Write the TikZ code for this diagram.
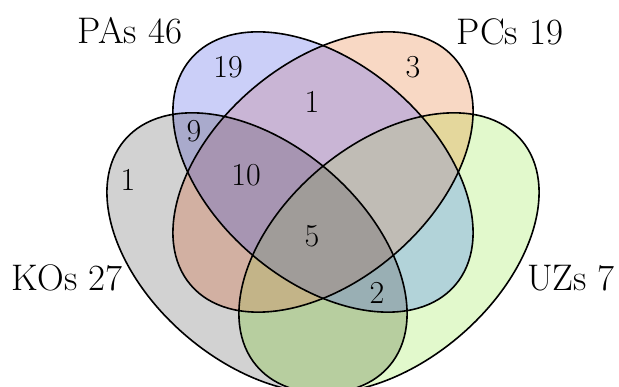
\documentclass[tikz,border=0pt]{standalone}
\tikzset{
  rotK/.style={rotate around={-40.5:(257,134)}},
  rotA/.style={rotate around={-40.5:(323,215)}},
  rotC/.style={rotate around={40.5:(323,215)}},
  rotU/.style={rotate around={40.5:(389,134)}},
  setline/.style={line width=1.6pt, draw=black},
  setname/.style={font=\fontsize{37}{42}\selectfont, inner sep=0pt},
  count/.style={font=\fontsize{32}{36}\selectfont, inner sep=0pt},
}
% the four sets as ellipses (1 unit = 1pt, y pointing up)
\newcommand\pathK{(257,134) ellipse [x radius=174, y radius=109]}
\newcommand\pathA{(323,215) ellipse [x radius=174, y radius=109]}
\newcommand\pathC{(323,215) ellipse [x radius=174, y radius=109]}
\newcommand\pathU{(389,134) ellipse [x radius=174, y radius=109]}
\newcommand\canvas{(0,0) rectangle (619,387)}
% region colours (K = KOs, A = PAs, C = PCs, U = UZs)
\definecolor{cK}{HTML}{D2D2D2}
\definecolor{cA}{HTML}{CBCFF8}
\definecolor{cC}{HTML}{F8D8C4}
\definecolor{cU}{HTML}{E2F9CC}
\definecolor{cKA}{HTML}{A9AACC}
\definecolor{cKC}{HTML}{D2B0A2}
\definecolor{cKU}{HTML}{B7CE9F}
\definecolor{cAC}{HTML}{C9B5D5}
\definecolor{cAU}{HTML}{B2D3D9}
\definecolor{cCU}{HTML}{E4D79C}
\definecolor{cKAC}{HTML}{A795B2}
\definecolor{cKAU}{HTML}{99AFB4}
\definecolor{cKCU}{HTML}{C3B488}
\definecolor{cACU}{HTML}{C0BCB5}
\definecolor{cKACU}{HTML}{A09C99}
\begin{document}
\begin{tikzpicture}[x=1pt, y=1pt]
\clip \canvas;
\fill[white] \canvas;
% single sets
\fill[cK, rotK] \pathK;
\fill[cA, rotA] \pathA;
\fill[cC, rotC] \pathC;
\fill[cU, rotU] \pathU;
% pairs
\begin{scope}\clip[rotK] \pathK; \clip[rotA] \pathA; \fill[cKA] \canvas; \end{scope}
\begin{scope}\clip[rotK] \pathK; \clip[rotC] \pathC; \fill[cKC] \canvas; \end{scope}
\begin{scope}\clip[rotK] \pathK; \clip[rotU] \pathU; \fill[cKU] \canvas; \end{scope}
\begin{scope}\clip[rotA] \pathA; \clip[rotC] \pathC; \fill[cAC] \canvas; \end{scope}
\begin{scope}\clip[rotA] \pathA; \clip[rotU] \pathU; \fill[cAU] \canvas; \end{scope}
\begin{scope}\clip[rotC] \pathC; \clip[rotU] \pathU; \fill[cCU] \canvas; \end{scope}
% triples
\begin{scope}\clip[rotK] \pathK; \clip[rotA] \pathA; \clip[rotC] \pathC; \fill[cKAC] \canvas; \end{scope}
\begin{scope}\clip[rotK] \pathK; \clip[rotA] \pathA; \clip[rotU] \pathU; \fill[cKAU] \canvas; \end{scope}
\begin{scope}\clip[rotK] \pathK; \clip[rotC] \pathC; \clip[rotU] \pathU; \fill[cKCU] \canvas; \end{scope}
\begin{scope}\clip[rotA] \pathA; \clip[rotC] \pathC; \clip[rotU] \pathU; \fill[cACU] \canvas; \end{scope}
% all four
\begin{scope}\clip[rotK] \pathK; \clip[rotA] \pathA; \clip[rotC] \pathC; \clip[rotU] \pathU; \fill[cKACU] \canvas; \end{scope}
% outlines
\draw[setline, rotK] \pathK;
\draw[setline, rotA] \pathA;
\draw[setline, rotC] \pathC;
\draw[setline, rotU] \pathU;
% set names
\node[setname] (nameA) at (130,356) {PAs 46};
\node[setname] (nameC) at (510,355) {PCs 19};
\node[setname] (nameK) at (67,109) {KOs 27};
\node[setname] (nameU) at (571,109) {UZs 7};
% region counts
\node[count] (nA) at (228,320) {19};
\node[count] (nC) at (413,320) {3};
\node[count] (nAC) at (312,285) {1};
\node[count] (nKA) at (194,256) {9};
\node[count] (nKAC) at (246,212) {10};
\node[count] (nK) at (128,207) {1};
\node[count] (nKACU) at (312,151) {5};
\node[count] (nKAU) at (377,94) {2};
\end{tikzpicture}
\end{document}
